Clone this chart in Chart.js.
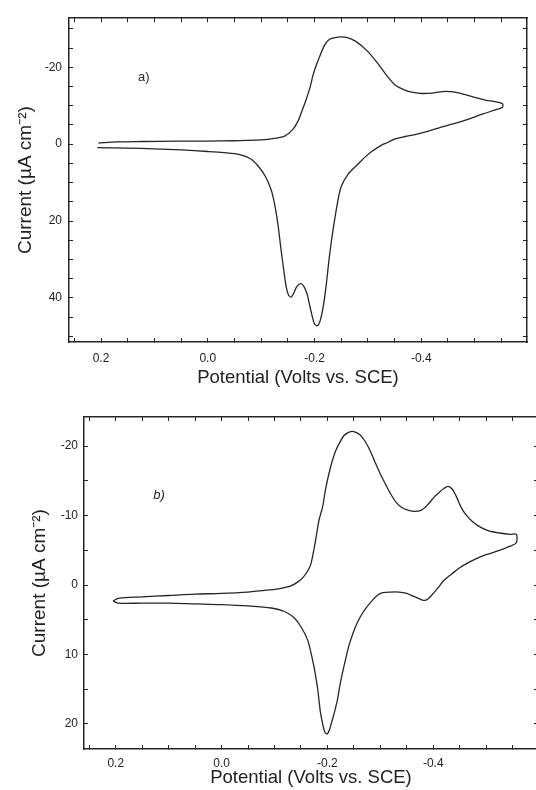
<!DOCTYPE html>
<html>
<head>
<meta charset="utf-8">
<script src="https://cdn.jsdelivr.net/npm/chart.js@4"></script>
<style>
  html, body { margin: 0; padding: 0; background: #fff; overflow: hidden; width: 536px; height: 790px; }
  .panel { position: absolute; left: 0; }
  #wrapA { top: 0; }
  #wrapB { top: 395px; }
</style>
</head>
<body>
<div class="panel" id="wrapA"><canvas id="cvA" width="536" height="395"></canvas></div>
<div class="panel" id="wrapB"><canvas id="cvB" width="560" height="395"></canvas></div>
<script>
// panel a) potential (V vs SCE) and current (uA cm-2), one closed sweep
const aPotential = [
  0.205, 0.17, 0.12, 0.06, 0.0, -0.05, -0.10, -0.125, -0.144, -0.159,
  -0.169, -0.176, -0.184, -0.192, -0.197, -0.203, -0.209, -0.218, -0.228, -0.244,
  -0.260, -0.278, -0.300, -0.319, -0.335, -0.351, -0.369, -0.385, -0.401, -0.420,
  -0.440, -0.460, -0.482, -0.500, -0.520, -0.540, -0.552,
  -0.552, -0.540, -0.514, -0.490, -0.463, -0.432, -0.410, -0.388, -0.370, -0.351,
  -0.338, -0.325, -0.307, -0.295, -0.282, -0.263, -0.250, -0.244, -0.235, -0.228,
  -0.222, -0.216, -0.210, -0.205, -0.200, -0.196, -0.191, -0.186, -0.180, -0.174,
  -0.167, -0.161, -0.156, -0.151, -0.147, -0.143, -0.137, -0.131, -0.125, -0.119,
  -0.108, -0.095, -0.080, -0.060, -0.030, 0.0, 0.05, 0.10, 0.15, 0.207
];
const aCurrent = [
  -0.3, -0.6, -0.7, -0.8, -0.8, -0.9, -1.1, -1.5, -2.1, -3.8,
  -6.0, -8.5, -11.5, -15.0, -17.9, -20.5, -22.6, -25.6, -27.3, -27.9,
  -27.8, -26.7, -24.1, -20.9, -17.9, -15.4, -14.1, -13.5, -13.2, -13.3,
  -13.7, -13.6, -12.9, -12.2, -11.5, -11.0, -10.5,
  -9.6, -9.0, -7.8, -6.6, -5.4, -4.2, -3.3, -2.5, -2.0, -1.4,
  -0.5, 0.3, 1.9, 3.3, 5.1, 7.8, 11.0, 14.5, 22.0, 29.0,
  36.5, 42.5, 46.2, 47.3, 46.8, 45.0, 42.0, 39.0, 37.0, 36.3,
  37.0, 38.8, 39.8, 39.2, 37.2, 33.5, 27.2, 20.5, 15.5, 12.0,
  8.4, 5.8, 3.8, 2.7, 2.2, 1.9, 1.5, 1.2, 1.0, 0.9
];

// panel b)
const bPotential = [
  0.205, 0.195, 0.15, 0.10, 0.05, 0.0, -0.05, -0.09, -0.11, -0.131,
  -0.145, -0.156, -0.164, -0.169, -0.175, -0.180, -0.184, -0.191, -0.197, -0.206,
  -0.213, -0.219, -0.231, -0.240, -0.250, -0.262, -0.272, -0.281, -0.290, -0.300,
  -0.310, -0.319, -0.330, -0.340, -0.352, -0.365, -0.378, -0.390, -0.402, -0.412,
  -0.420, -0.428, -0.436, -0.444, -0.452, -0.462, -0.475, -0.490, -0.505, -0.525,
  -0.545, -0.557,
  -0.557, -0.545, -0.525, -0.505, -0.487, -0.468, -0.450, -0.435, -0.419, -0.410,
  -0.400, -0.390, -0.382, -0.372, -0.362, -0.350, -0.335, -0.320, -0.305, -0.294,
  -0.285, -0.275, -0.265, -0.256, -0.248, -0.240, -0.234, -0.228, -0.223, -0.219,
  -0.214, -0.209, -0.204, -0.200, -0.196, -0.192, -0.187, -0.184, -0.181, -0.176,
  -0.172, -0.163, -0.150, -0.137, -0.119, -0.094, -0.05, 0.0, 0.05, 0.10,
  0.15, 0.195, 0.205
];
const bCurrent = [
  2.3, 1.9, 1.7, 1.5, 1.3, 1.2, 1.0, 0.7, 0.5, 0.1,
  -0.5, -1.3, -2.2, -3.1, -5.3, -7.5, -9.3, -11.3, -14.0, -17.0,
  -18.8, -19.9, -21.5, -22.0, -22.1, -21.6, -20.6, -19.3, -17.7, -16.0,
  -14.5, -13.2, -11.9, -11.2, -10.8, -10.6, -10.8, -11.6, -12.7, -13.4,
  -13.9, -14.2, -13.8, -12.7, -11.3, -10.1, -9.1, -8.3, -7.8, -7.5,
  -7.3, -7.3,
  -6.1, -5.6, -5.0, -4.5, -4.0, -3.3, -2.5, -1.6, -0.6, 0.3,
  1.2, 2.0, 2.2, 1.9, 1.6, 1.2, 1.0, 1.0, 1.1, 1.5,
  2.2, 3.1, 4.2, 5.5, 7.0, 8.9, 10.8, 12.8, 14.7, 16.5,
  18.1, 19.5, 20.8, 21.4, 21.3, 20.3, 18.4, 16.5, 14.6, 12.3,
  10.8, 8.0, 6.0, 4.7, 3.8, 3.3, 3.0, 2.8, 2.7, 2.6,
  2.6, 2.6, 2.3
];

const xTitle = 'Potential (Volts vs. SCE)';
const yTitle = 'Current (\u00b5A cm\u207b\u00b2)';

Chart.defaults.font.family = "'Liberation Sans', Arial, sans-serif";
Chart.defaults.color = '#222';
Chart.defaults.animation = false;

const ink = '#262626';

const panelLabel = {
  id: 'panelLabel',
  afterDraw(chart, args, opts) {
    const { ctx, scales } = chart;
    ctx.save();
    ctx.font = opts.font;
    ctx.fillStyle = ink;
    ctx.textAlign = 'center';
    ctx.textBaseline = 'middle';
    ctx.fillText(opts.text, scales.x.getPixelForValue(opts.x), scales.y.getPixelForValue(opts.y));
    ctx.restore();
  }
};

function fmtX(v) {
  const q = v / 0.2;
  if (Math.abs(q - Math.round(q)) > 1e-6) return '';
  const r = Math.round(v * 10) / 10;
  return r === 0 ? '0.0' : r.toFixed(1);
}

function makeChart(id, xs, ys, cfg) {
  const pts = xs.map((x, i) => ({ x: x, y: ys[i] }));
  const gridOpts = { drawOnChartArea: false, drawTicks: true, tickLength: -4, color: ink, lineWidth: 1 };
  const borderOpts = { display: true, color: ink, width: 1.5 };
  const fmtY = v => (Math.abs(v / cfg.yLabelStep - Math.round(v / cfg.yLabelStep)) < 1e-6 ? String(Math.round(v)) : '');
  return new Chart(document.getElementById(id), {
    type: 'scatter',
    data: {
      datasets: [{
        data: pts,
        showLine: true,
        borderColor: ink,
        borderWidth: 1.3,
        pointRadius: 0,
        fill: false,
        tension: 0.3
      }]
    },
    options: {
      responsive: false,
      layout: { padding: cfg.padding },
      plugins: {
        legend: { display: false },
        tooltip: { enabled: false },
        panelLabel: cfg.label
      },
      scales: {
        x: {
          type: 'linear', position: 'bottom', reverse: true,
          min: -0.598, max: 0.26,
          grid: gridOpts, border: borderOpts,
          ticks: { stepSize: 0.05, includeBounds: false, maxRotation: 0, autoSkip: false,
                   padding: cfg.xTickPad, font: { size: 12 }, callback: fmtX },
          title: { display: true, text: xTitle, font: { size: 18.5 }, padding: { top: 0, bottom: cfg.xTitlePad } },
          afterFit: s => { s.height = cfg.xHeight; }
        },
        x2: {
          type: 'linear', position: 'top', reverse: true,
          min: -0.598, max: 0.26,
          grid: gridOpts, border: borderOpts,
          ticks: { display: false, stepSize: 0.05, includeBounds: false, autoSkip: false },
          afterFit: s => { s.height = 0; }
        },
        y: {
          type: 'linear', position: 'left', reverse: true,
          min: cfg.yMin, max: cfg.yMax,
          grid: gridOpts, border: borderOpts,
          ticks: { stepSize: 5, includeBounds: false, autoSkip: false,
                   padding: cfg.yTickPad, font: { size: 12 }, callback: fmtY },
          title: { display: true, text: yTitle, font: { size: 19 }, padding: { top: cfg.yTitlePad, bottom: 0 } },
          afterFit: s => { s.width = cfg.yWidth; }
        },
        y2: {
          type: 'linear', position: 'right', reverse: true,
          min: cfg.yMin, max: cfg.yMax,
          grid: gridOpts, border: borderOpts,
          ticks: { display: false, stepSize: 5, includeBounds: false, autoSkip: false },
          afterFit: s => { s.width = 0; }
        }
      }
    },
    plugins: [panelLabel]
  });
}

makeChart('cvA', aPotential, aCurrent, {
  padding: { top: 12, right: 9, left: 0, bottom: 0 },
  yMin: -32.8, yMax: 51.5, yLabelStep: 20,
  xHeight: 53, yWidth: 69,
  xTickPad: 13, xTitlePad: 6, yTickPad: 11, yTitlePad: 14,
  label: { text: 'a)', x: 0.12, y: -17.4, font: "13px 'Liberation Sans', Arial, sans-serif" }
});

makeChart('cvB', bPotential, bCurrent, {
  padding: { top: 22, right: 22, left: 0, bottom: 0 },
  yMin: -24.2, yMax: 23.6, yLabelStep: 10,
  xHeight: 41, yWidth: 84,
  xTickPad: 11, xTitlePad: 1, yTickPad: 10, yTitlePad: 28,
  label: { text: 'b)', x: 0.118, y: -12.9, font: "italic 13px 'Liberation Sans', Arial, sans-serif" }
});
</script>
</body>
</html>
